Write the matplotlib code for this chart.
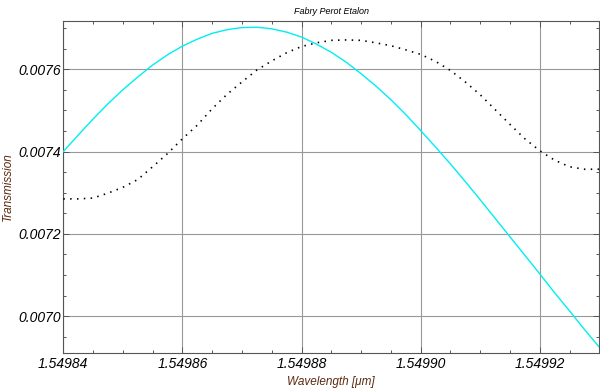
import matplotlib
matplotlib.use("Agg")
import matplotlib.pyplot as plt
from matplotlib.ticker import MultipleLocator, FormatStrFormatter

plt.rcParams['font.family'] = ['Liberation Sans', 'DejaVu Sans']

# %% Datos (paso de 2.5e-6 um)
wavelength = [1.54984 + k * 0.0000025 for k in range(37)]

# curva cian (linea continua)
trans_cyan = [0.007400, 0.007440, 0.007479, 0.007516, 0.007550, 0.007581,
              0.007610, 0.007635, 0.007656, 0.007673, 0.007687, 0.007696,
              0.007701, 0.007702, 0.007698, 0.007690, 0.007678, 0.007661,
              0.007641, 0.007617, 0.007589, 0.007559, 0.007526, 0.007490,
              0.007451, 0.007411, 0.007370, 0.007327, 0.007283, 0.007238,
              0.007193, 0.007148, 0.007103, 0.007057, 0.007013, 0.006968,
              0.006925]

# curva punteada (negra)
trans_dot = [0.007285, 0.007285, 0.007287, 0.007299, 0.007313, 0.007332,
             0.007363, 0.007395, 0.007431, 0.007464, 0.007504, 0.007539,
             0.007569, 0.007598, 0.007620, 0.007640, 0.007655, 0.007664,
             0.007670, 0.007671, 0.007670, 0.007664, 0.007657, 0.007647,
             0.007636, 0.007619, 0.007597, 0.007569, 0.007538, 0.007502,
             0.007466, 0.007431, 0.007402, 0.007379, 0.007363, 0.007357,
             0.007357]

# %% Figura
fig = plt.figure(figsize=(6.0, 3.89), dpi=100, facecolor='white')
ax = fig.add_axes([0.1055, 0.0918, 0.8933, 0.8542])

ax.plot(wavelength, trans_dot, color='black', linewidth=1.2,
        linestyle=(0, (0.9, 3.2)), dash_capstyle='butt', zorder=3)
ax.plot(wavelength, trans_cyan, color='#00eef2', linewidth=1.0, zorder=4)

ax.set_xlim(1.54984, 1.54993)
ax.set_ylim(0.006910, 0.007717)

ax.xaxis.set_major_locator(MultipleLocator(0.00002))
ax.xaxis.set_minor_locator(MultipleLocator(0.000005))
ax.yaxis.set_major_locator(MultipleLocator(0.0002))
ax.yaxis.set_minor_locator(MultipleLocator(0.00005))
ax.xaxis.set_major_formatter(FormatStrFormatter('%.5f'))
ax.yaxis.set_major_formatter(FormatStrFormatter('%.4f'))

ax.grid(which='major', color='#999999', linewidth=0.8, linestyle='-')
ax.set_axisbelow(True)

ax.tick_params(which='both', direction='in', top=True, right=True,
               color='#555555', width=0.7)
ax.tick_params(which='major', length=4, labelsize=10, pad=2)
ax.tick_params(which='minor', length=2.2)
ax.tick_params(axis='x', which='major', pad=3)
for lab in ax.get_xticklabels() + ax.get_yticklabels():
    lab.set_fontstyle('italic')

for s in ax.spines.values():
    s.set_color('#555555')
    s.set_linewidth(0.8)

fig.text(331 / 600, 1 - 12 / 389, 'Fabry Perot Etalon', ha='center',
         va='center', fontsize=6.5, fontstyle='italic')
fig.text(331 / 600, 1 - 382 / 389, 'Wavelength [\u03bcm]', ha='center',
         va='center', fontsize=8.5, fontstyle='italic', color='#5c2a10')
fig.text(8 / 600, 1 - 187 / 389, 'Transmission', ha='center', va='center',
         rotation=90, fontsize=8.5, fontstyle='italic', color='#5c2a10')

fig.savefig('out.png', dpi=100, facecolor='white')
